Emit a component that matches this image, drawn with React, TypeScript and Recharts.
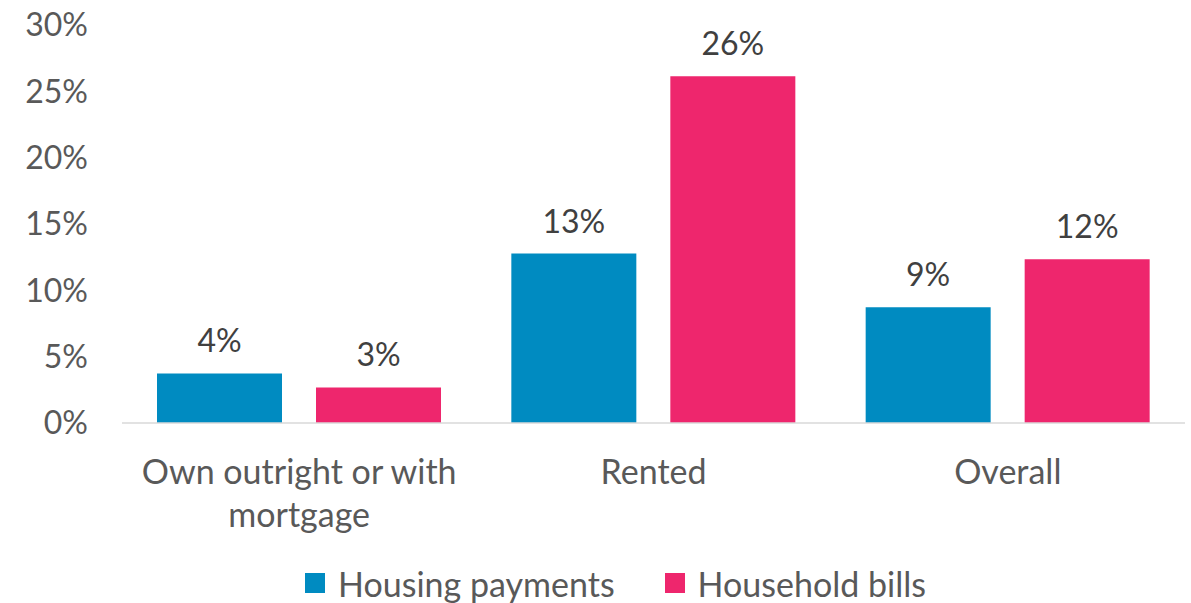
import React from "react";
import { BarChart, Bar, XAxis, YAxis, Legend, LabelList } from "recharts";

const categories = ["Own outright or with mortgage", "Rented", "Overall"];
const housingPayments = [3.74, 12.77, 8.72];
const householdBills = [2.68, 26.13, 12.34];
const yTicks = [0, 5, 10, 15, 20, 25, 30];
const seriesNames = ["Housing payments", "Household bills"];
const seriesColors = ["#008BC1", "#EE266D"];

const data = categories.map((c, i) => ({
  name: c,
  housing: housingPayments[i],
  bills: householdBills[i],
}));

const FONT = "Lato, 'Open Sans', sans-serif";

function wrapWords(s: string, maxChars: number): string[] {
  const words = s.split(" ");
  const lines: string[] = [];
  let cur = "";
  for (const w of words) {
    const next = cur ? cur + " " + w : w;
    if (next.length > maxChars && cur) {
      lines.push(cur);
      cur = w;
    } else {
      cur = next;
    }
  }
  if (cur) lines.push(cur);
  return lines;
}

const XTick = (props: any) => {
  const { x, y, payload } = props;
  const lines = wrapWords(String(payload.value), 22);
  return (
    <text
      x={x}
      y={y}
      textAnchor="middle"
      fill="#595959"
      style={{ fontFamily: FONT, fontSize: 34 }}
    >
      {lines.map((l, i) => (
        <tspan key={i} x={x} dy={i === 0 ? "0.71em" : 43}>
          {l}
        </tspan>
      ))}
    </text>
  );
};

const LegendContent = () => (
  <div
    style={{
      display: "flex",
      justifyContent: "center",
      alignItems: "center",
      paddingLeft: 40,
      fontFamily: FONT,
      fontSize: 34,
      color: "#595959",
      height: 40,
    }}
  >
    {seriesNames.map((n, i) => (
      <div key={n} style={{ display: "flex", alignItems: "center", marginRight: i === 0 ? 50 : 0 }}>
        <div style={{ width: 20, height: 20, background: seriesColors[i], marginRight: 13 }} />
        <span>{n}</span>
      </div>
    ))}
  </div>
);

export default function App() {
  return (
    <div style={{ position: "absolute", left: 0, top: 0, width: 1191, height: 603, background: "#fff" }}>
      <BarChart
        width={1191}
        height={603}
        data={data}
        margin={{ top: 25, right: 6, bottom: 0, left: 0 }}
        barSize={125}
        barGap={34}
      >
        <XAxis
          dataKey="name"
          height={140}
          tickLine={false}
          tickSize={0}
          tickMargin={37}
          axisLine={{ stroke: "#D9D9D9", strokeWidth: 1.5 }}
          tick={<XTick />}
          interval={0}
        />
        <YAxis
          width={122}
          domain={[0, 30]}
          ticks={yTicks}
          tickFormatter={(v: number) => `${v}%`}
          axisLine={false}
          tickLine={false}
          tickSize={0}
          tickMargin={34}
          tick={{ fontFamily: FONT, fontSize: 32, fill: "#595959" }}
        />
        <Legend verticalAlign="bottom" height={40} content={<LegendContent />} wrapperStyle={{ left: 0, width: 1191 }} />
        <Bar dataKey="housing" name={seriesNames[0]} fill={seriesColors[0]} isAnimationActive={false}>
          <LabelList
            dataKey="housing"
            position="top"
            offset={21}
            formatter={(v: number) => `${Math.round(v)}%`}
            style={{ fontFamily: FONT, fontSize: 32, fill: "#404040" }}
          />
        </Bar>
        <Bar dataKey="bills" name={seriesNames[1]} fill={seriesColors[1]} isAnimationActive={false}>
          <LabelList
            dataKey="bills"
            position="top"
            offset={21}
            formatter={(v: number) => `${Math.round(v)}%`}
            style={{ fontFamily: FONT, fontSize: 32, fill: "#404040" }}
          />
        </Bar>
      </BarChart>
    </div>
  );
}
